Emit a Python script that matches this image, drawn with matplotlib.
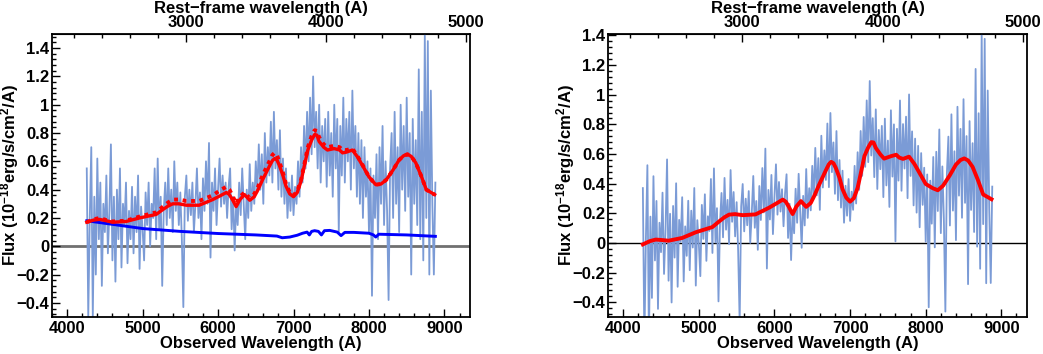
import matplotlib
matplotlib.use('Agg')
import matplotlib.pyplot as plt
from matplotlib.ticker import MultipleLocator, FixedLocator, FuncFormatter
import numpy as np

plt.rcParams['font.family'] = ['Liberation Sans', 'DejaVu Sans']
plt.rcParams['font.weight'] = 'bold'
plt.rcParams['mathtext.fontset'] = 'custom'
plt.rcParams['mathtext.rm'] = 'Liberation Sans:bold'
plt.rcParams['mathtext.bf'] = 'Liberation Sans:bold'
plt.rcParams['mathtext.it'] = 'Liberation Sans:bold'

Z1 = 1.858  # observed / rest

# observed spectrum, 4260..8880 A every 20 A
spec_wave = np.arange(4260, 8881, 20)
spec_flux = [
    0.55, -0.50, 0.20, 0.70, -0.50, 0.35, -0.20, 0.62, 0.05, 0.45,
    -0.28, 0.30, 0.10, 0.50, -0.05, 0.25, 0.72, -0.10, 0.35, -0.25,
    0.40, 0.05, 0.55, -0.15, 0.30, 0.15, 0.45, -0.12, 0.25, 0.05,
    0.42, -0.05, 0.35, 0.10, 0.50, -0.16, 0.28, 0.12, -0.10, 0.38,
    0.15, 0.45, 0.00, 0.30, 0.20, 0.55, 0.05, 0.62, 0.12, 0.35,
    -0.28, 0.25, 0.45, 0.15, 0.55, 0.20, 0.40, 0.10, 0.60, 0.25,
    0.45, 0.15, 0.38, 0.05, -0.43, 0.35, 0.50, 0.18, 0.40, 0.22,
    0.45, 0.10, 0.30, 0.55, 0.20, 0.38, 0.05, 0.48, 0.25, 0.60,
    0.30, 0.73, -0.08, 0.45, 0.25, 0.55, 0.15, 0.40, 0.62, 0.28,
    0.50, 0.30, 0.45, 0.20, 0.42, 0.55, 0.12, 0.35, -0.03, 0.30,
    0.15, 0.45, 0.22, 0.55, 0.30, 0.05, 0.40, 0.20, 0.58, 0.25,
    0.45, 0.30, 0.60, 0.38, 0.72, 0.40, 0.65, 0.30, 0.80, 0.45,
    0.70, 0.50, 0.88, 0.45, 0.95, 0.55, 0.75, 0.40, 0.82, 0.35,
    0.62, 0.30, 0.55, 0.20, 0.45, 0.25, 0.50, 0.22, 0.42, 0.30,
    0.60, 0.35, 0.70, 0.45, 0.85, 0.55, 0.95, 0.60, 1.05, 0.65,
    1.20, 0.70, 0.95, 0.55, 1.00, 0.45, 0.85, 0.60, 0.90, 0.42,
    0.95, 0.50, 0.80, 0.35, 1.00, 0.55, 0.90, 0.10, 0.85, 0.50,
    1.05, 0.45, 0.90, 0.60, 0.95, 0.40, 1.10, 0.55, 0.85, 0.35,
    0.80, 0.30, 0.75, 0.20, 0.70, 0.35, 0.60, 0.10, 0.55, -0.35,
    0.50, 0.20, 0.65, 0.05, 0.70, 0.30, 0.85, 0.15, 0.60, 0.25,
    -0.38, 0.55, 0.80, 0.20, 0.95, 0.30, 0.70, 0.10, 1.00, 0.40,
    0.85, 0.25, 1.05, 0.35, 0.80, -0.20, 0.90, 0.30, 0.75, 0.15,
    1.25, 0.05, 0.95, -0.10, 1.50, 0.20, 1.45, -0.20, 1.10, 0.30,
    -0.20, 0.45,
]

# model fits (red): solid = SN + host fit, dotted = total model
model_wave = [4260, 4350, 4430, 4520, 4600, 4780, 4960, 5180, 5270, 5340,
              5400, 5480, 5580, 5750, 5930, 6040, 6110, 6150, 6190, 6240,
              6290, 6350, 6420, 6480, 6530, 6590, 6680, 6720, 6750, 6780,
              6810, 6860, 6900, 6950, 7000, 7050, 7100, 7140, 7190, 7240,
              7280, 7310, 7340, 7400, 7450, 7540, 7610, 7650, 7700, 7780,
              7850, 7920, 8000, 8090, 8160, 8230, 8320, 8400, 8460, 8510,
              8560, 8620, 8690, 8760, 8870]
model_solid = [0.17, 0.185, 0.19, 0.18, 0.17, 0.175, 0.20, 0.225, 0.26, 0.285,
               0.30, 0.30, 0.29, 0.29, 0.33, 0.36, 0.38, 0.365, 0.33, 0.28,
               0.33, 0.365, 0.325, 0.35, 0.40, 0.47, 0.565, 0.605, 0.62, 0.61,
               0.575, 0.50, 0.425, 0.37, 0.35, 0.38, 0.46, 0.56, 0.68, 0.75,
               0.79, 0.785, 0.74, 0.70, 0.68, 0.69, 0.68, 0.66, 0.665, 0.68,
               0.63, 0.565, 0.49, 0.435, 0.44, 0.47, 0.54, 0.61, 0.64, 0.65,
               0.635, 0.59, 0.50, 0.40, 0.365]
model_dotted = [0.17, 0.19, 0.20, 0.185, 0.175, 0.18, 0.21, 0.24, 0.28, 0.31,
                0.33, 0.33, 0.32, 0.32, 0.36, 0.40, 0.42, 0.40, 0.36, 0.30,
                0.35, 0.38, 0.34, 0.37, 0.42, 0.50, 0.60, 0.645, 0.66, 0.645,
                0.60, 0.52, 0.44, 0.38, 0.36, 0.39, 0.47, 0.57, 0.70, 0.78,
                0.82, 0.815, 0.77, 0.72, 0.70, 0.71, 0.70, 0.68, 0.68, 0.69,
                0.635, 0.57, 0.49, 0.435, 0.44, 0.47, 0.54, 0.61, 0.64, 0.65,
                0.635, 0.59, 0.50, 0.40, 0.365]

# host galaxy (blue)
host_wave = [4260, 4600, 5000, 5500, 6000, 6500, 6780, 6850, 6950, 7050,
             7120, 7180, 7210, 7240, 7280, 7330, 7370, 7410, 7480, 7580,
             7630, 7680, 7800, 8000, 8060, 8090, 8130, 8500, 8880]
host_flux = [0.18, 0.155, 0.125, 0.105, 0.09, 0.08, 0.072, 0.06, 0.065, 0.078,
             0.092, 0.10, 0.08, 0.105, 0.11, 0.105, 0.08, 0.11, 0.112, 0.10,
             0.075, 0.098, 0.098, 0.092, 0.08, 0.065, 0.085, 0.08, 0.07]

SPEC_COLOR = "#7b9bd6"
FS = 12


def obs2rest(x):
    return np.asarray(x) / Z1


def rest2obs(x):
    return np.asarray(x) * Z1


def fmt_y(v, pos):
    s = "%g" % round(v, 2)
    return s.replace("-", "\u2212")


def style_axes(ax, ylim):
    ax.set_xlim(3800, 9340)
    ax.set_ylim(*ylim)
    ax.xaxis.set_major_locator(MultipleLocator(1000))
    ax.xaxis.set_minor_locator(MultipleLocator(200))
    ax.yaxis.set_major_locator(FixedLocator([-0.4, -0.2, 0, 0.2, 0.4, 0.6, 0.8, 1.0, 1.2, 1.4]))
    ax.yaxis.set_minor_locator(MultipleLocator(0.04))
    ax.yaxis.set_major_formatter(FuncFormatter(fmt_y))
    ax.tick_params(which="both", direction="in", top=False, right=False,
                   labelsize=FS, width=1)
    ax.tick_params(which="major", length=6)
    ax.tick_params(axis="y", which="major", pad=2)
    ax.tick_params(axis="x", which="major", pad=3)
    ax.tick_params(which="minor", length=3)
    for sp in ax.spines.values():
        sp.set_linewidth(1.3)
    for lab in ax.get_xticklabels() + ax.get_yticklabels():
        lab.set_fontweight("bold")
    ax.set_xlabel("Observed Wavelength (A)", fontsize=FS, fontweight="bold", labelpad=0)
    ax.set_ylabel(r"Flux (10$^{-18}$erg/s/cm$^{2}$/A)", fontsize=FS, fontweight="bold")
    ax.yaxis.set_label_coords(-0.074, 0.5)

    sec = ax.secondary_xaxis("top", functions=(obs2rest, rest2obs))
    sec.xaxis.set_major_locator(FixedLocator([3000, 4000, 5000]))
    sec.xaxis.set_minor_locator(MultipleLocator(200))
    sec.tick_params(which="both", direction="in", labelsize=FS, width=1)
    sec.tick_params(which="major", length=6, pad=3)
    sec.tick_params(which="minor", length=3)
    for lab in sec.get_xticklabels():
        lab.set_fontweight("bold")
    sec.set_xlabel("Rest\u2212frame wavelength (A)", fontsize=FS, fontweight="bold", labelpad=1)


fig = plt.figure(figsize=(10.43, 3.54), dpi=100)
ax1 = fig.add_axes([0.0499, 0.1045, 0.4008, 0.7995])
ax2 = fig.add_axes([0.5830, 0.1045, 0.4017, 0.7995])

# left: observed spectrum with model + host
ax1.axhline(0, color="#707070", lw=2, zorder=1)
ax1.plot(spec_wave, spec_flux, color=SPEC_COLOR, lw=1.3, zorder=2)
ax1.plot(host_wave, host_flux, color="#0000ff", lw=2.1, zorder=3)
ax1.plot(model_wave, model_dotted, color="#ff0000", lw=2.8, ls=(0, (1, 1.2)), zorder=4)
ax1.plot(model_wave, model_solid, color="#ff0000", lw=2.4, zorder=5)
style_axes(ax1, (-0.5, 1.5))

# right: host subtracted
host_on_spec = np.interp(spec_wave, host_wave, host_flux)
host_on_model = np.interp(model_wave, host_wave, host_flux)
ax2.axhline(0, color="black", lw=1, zorder=1)
ax2.plot(spec_wave, np.array(spec_flux) - host_on_spec, color=SPEC_COLOR, lw=1.3, zorder=2)
ax2.plot(model_wave, np.array(model_solid) - host_on_model, color="#ff0000", lw=2.8, zorder=5)
style_axes(ax2, (-0.5, 1.41))

fig.savefig("out.png", dpi=100)
